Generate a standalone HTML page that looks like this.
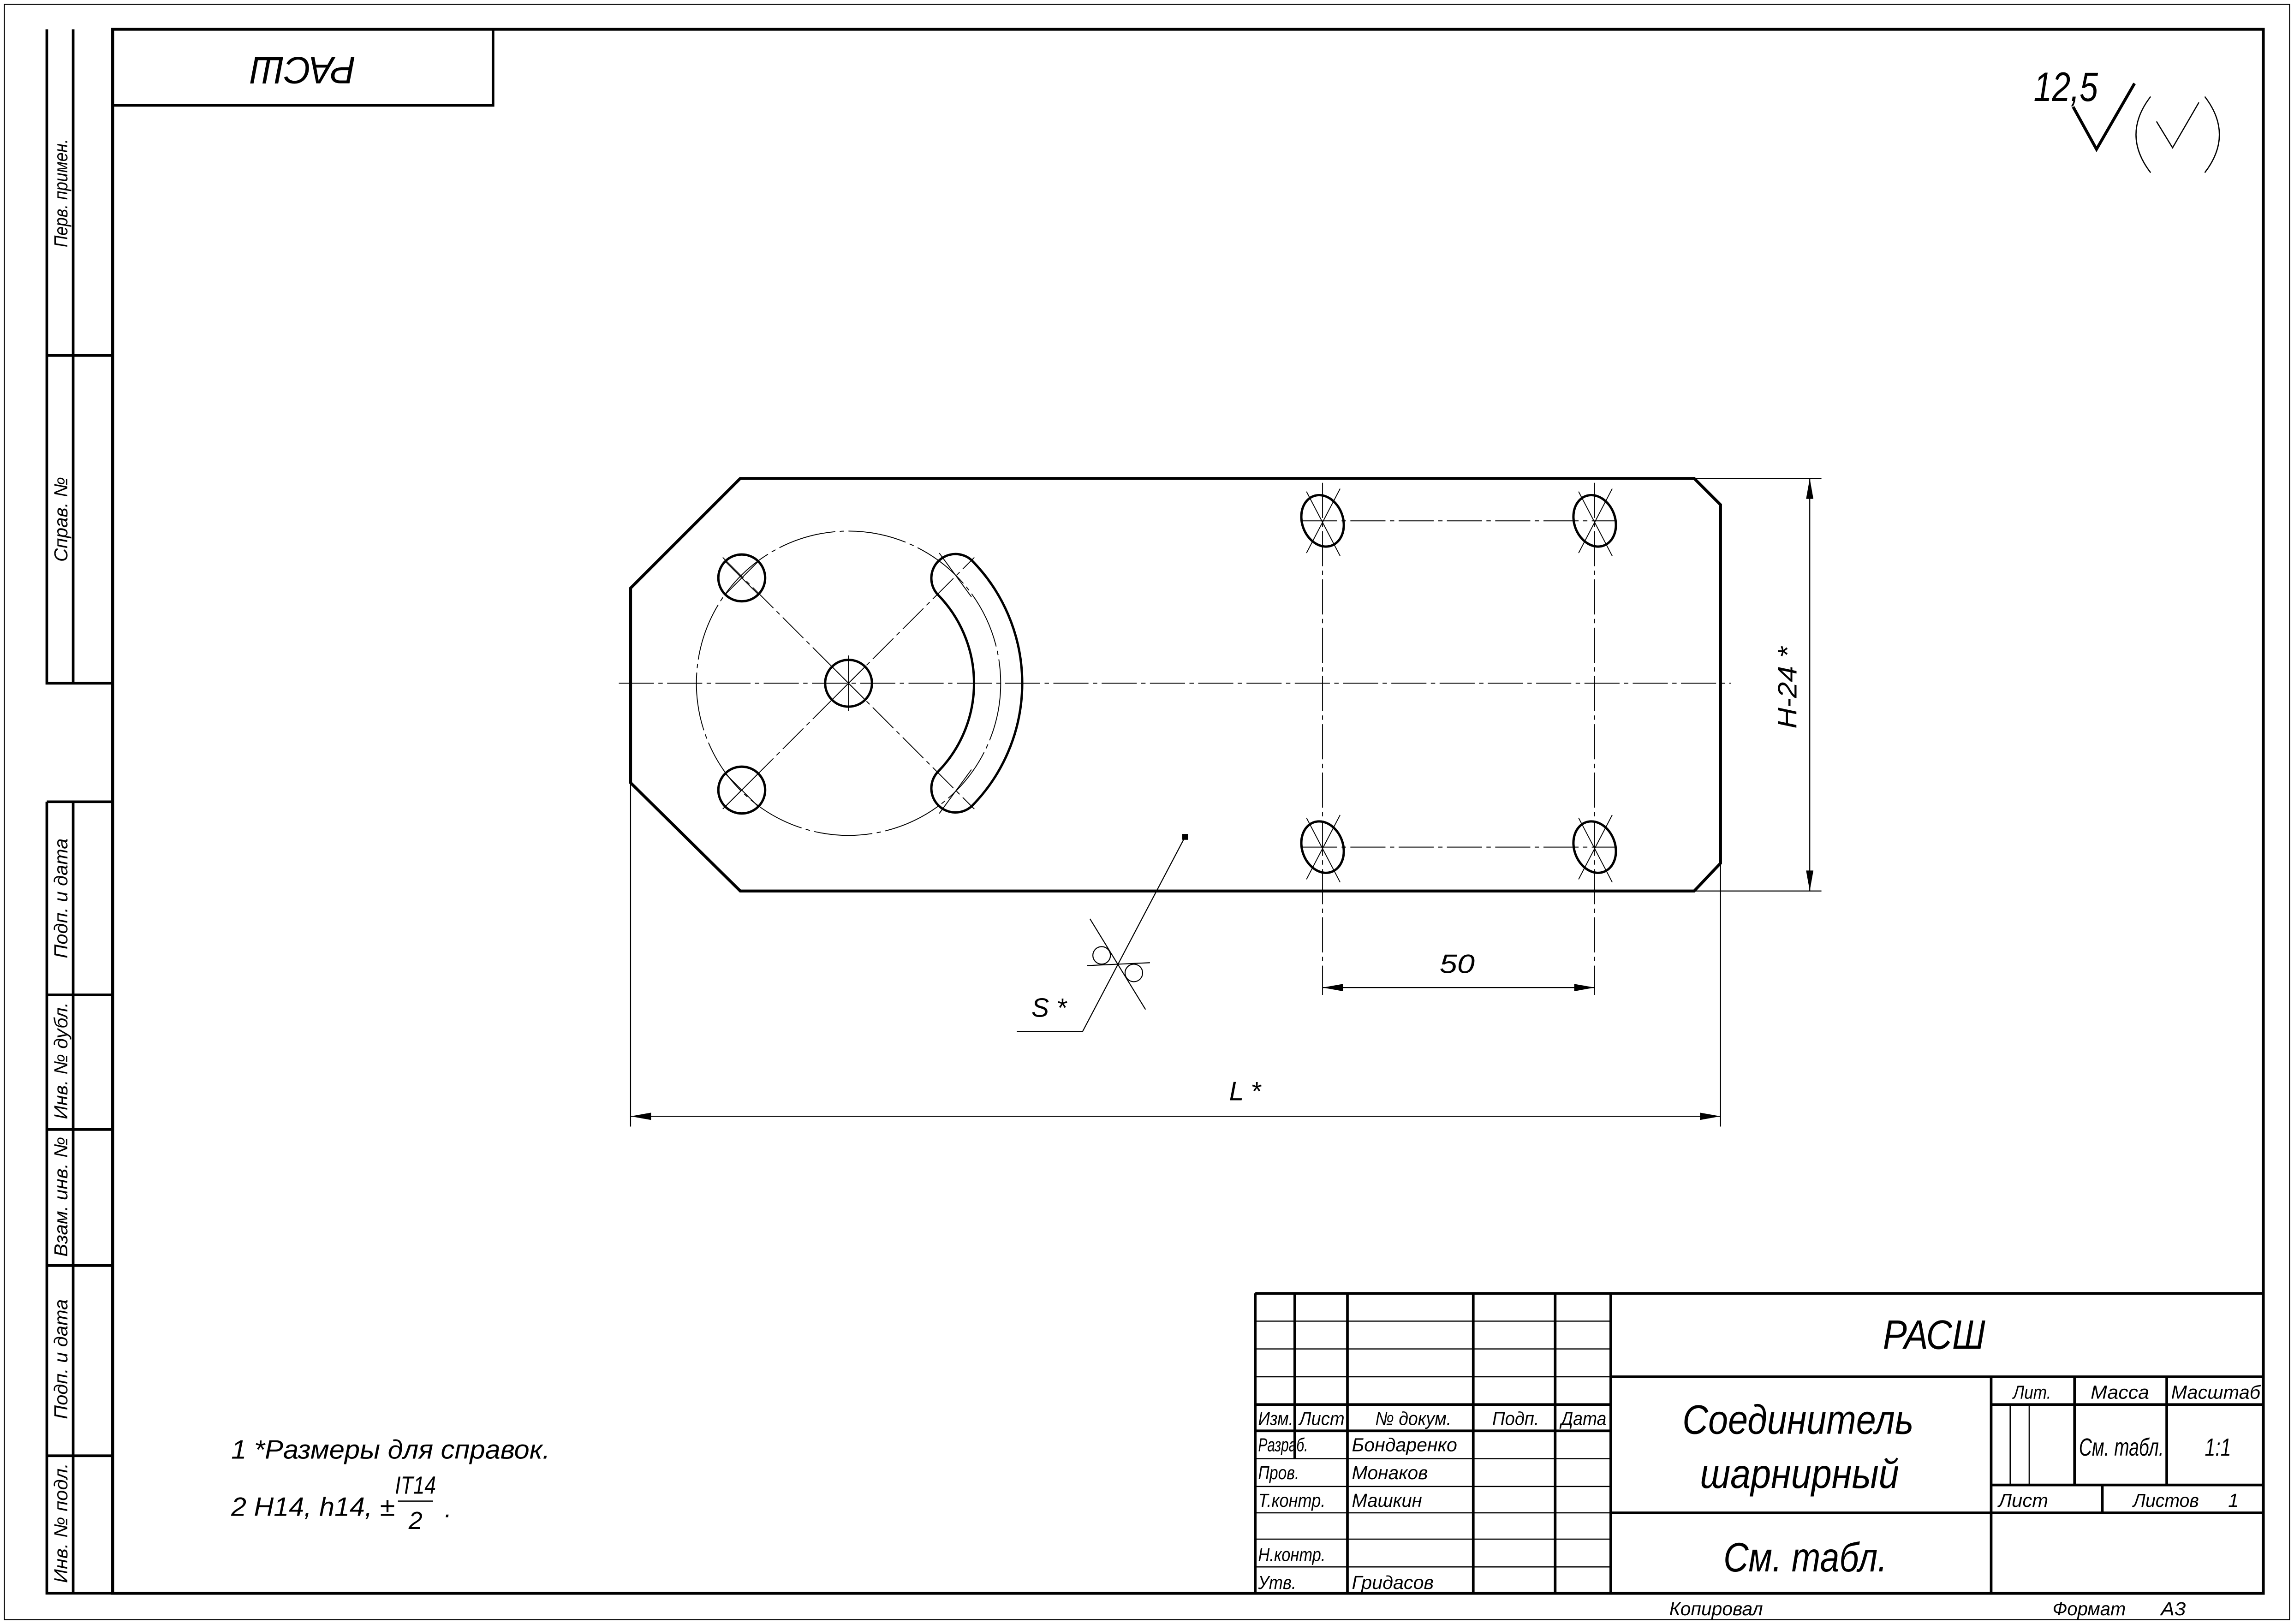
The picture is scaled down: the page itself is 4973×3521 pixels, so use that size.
<!DOCTYPE html>
<html><head><meta charset="utf-8"><style>
html,body{margin:0;padding:0;background:#fff}
svg{display:block}
text{font-family:"Liberation Sans Narrow","Liberation Sans",sans-serif;font-style:italic;fill:#000}
</style></head><body>
<svg xmlns="http://www.w3.org/2000/svg" width="4973" height="3521" viewBox="0 0 1568 1110" preserveAspectRatio="none">
<rect width="1568" height="1110" fill="#fff"/>
<g fill="none" stroke="#000">
<rect x="3" y="3" width="1562" height="1104" stroke-width="0.7"/>
<rect x="77" y="20" width="1470" height="1069" stroke-width="2"/>
<g stroke-width="1.8">
<path d="M32 20 V467 H77 M50 20 V467 M32 243 H77"/>
<path d="M32 548 V1089 H77 M32 548 H77 M50 548 V1089 M32 680 H77 M32 772 H77 M32 865 H77 M32 995 H77"/>
</g>
<path d="M77 72 H337 V20" stroke-width="1.8"/>
<path d="M1417 73 L1433 102 L1459 57" stroke-width="2"/>
<path d="M1474 83 L1485 101 L1503 70" stroke-width="0.8"/>
<path d="M1470 66 Q1450 92 1470 118" stroke-width="0.8"/>
<path d="M1507 66 Q1527 92 1507 118" stroke-width="0.8"/>

<path d="M506 327 H1158 L1176 345 V590 L1158 609 H506 L431 535 V402 Z" stroke-width="2"/>
<path d="M423 467 H1183" stroke-width="0.6" stroke-dasharray="24 3 3 3"/>
<circle cx="580" cy="467" r="104" stroke-width="0.6" stroke-dasharray="40 3 3 3"/>
<path d="M494 381 L666 553 M494 553 L666 381" stroke-width="0.6" stroke-dasharray="20 3 3 3"/>
<g stroke-width="1.6">
<circle cx="507" cy="395" r="16"/>
<circle cx="507" cy="540" r="16"/>
<circle cx="580" cy="467" r="16"/>
</g>
<g stroke-width="0.6">
<path d="M496 384 L518 406 M518 384 L496 406"/>
<path d="M496 529 L518 551 M518 529 L496 551"/>
<path d="M569 456 L591 478 M591 456 L569 478 M580 448 V486"/>
</g>
<path d="M664.1 382.9 A119.5 119.5 0 0 1 664.1 551.1 A16.5 16.5 0 0 1 640.8 527.8 A86.5 86.5 0 0 0 640.8 406.2 A16.5 16.5 0 0 1 664.1 382.9 Z" stroke-width="1.6"/>
<path d="M642 378 L664 408 M642 556 L664 526" stroke-width="0.6"/>

<g stroke-width="1.6">
<ellipse cx="904" cy="356" rx="14" ry="18" transform="rotate(-20 904 356)"/>
<ellipse cx="1090" cy="356" rx="14" ry="18" transform="rotate(-20 1090 356)"/>
<ellipse cx="904" cy="579" rx="14" ry="18" transform="rotate(-20 904 579)"/>
<ellipse cx="1090" cy="579" rx="14" ry="18" transform="rotate(-20 1090 579)"/>
</g>
<g stroke-width="0.6">
<path d="M893 336 L916 380 M916 334 L893 378"/>
<path d="M1079 336 L1102 380 M1102 334 L1079 378"/>
<path d="M893 559 L916 603 M916 557 L893 601"/>
<path d="M1079 559 L1102 603 M1102 557 L1079 601"/>
<path d="M904 330 V680 M1090 330 V680" stroke-dasharray="24 3 3 3"/>
<path d="M890 356 H1104 M890 579 H1104" stroke-dasharray="24 3 3 3"/>
</g>

<path d="M904 675 H1090" stroke-width="0.7"/>
<path d="M904 675 L918 672.5 L918 677.5 Z M1090 675 L1076 672.5 L1076 677.5 Z" fill="#000" stroke="none"/>

<path d="M1158 327 H1245 M1158 609 H1245 M1237 327 V609" stroke-width="0.7"/>
<path d="M1237 327 L1234.5 341 L1239.5 341 Z M1237 609 L1234.5 595 L1239.5 595 Z" fill="#000" stroke="none"/>

<path d="M431 535 V770 M1176 590 V770 M431 763 H1176" stroke-width="0.7"/>
<path d="M431 763 L445 760.5 L445 765.5 Z M1176 763 L1162 760.5 L1162 765.5 Z" fill="#000" stroke="none"/>

<g stroke-width="0.7">
<path d="M810 572 L740 705 H695"/>
<path d="M745 628 L783 690 M743 660 L786 658"/>
<circle cx="753" cy="653" r="6"/>
<circle cx="775" cy="665" r="6"/>
</g>
<rect x="808" y="570" width="4" height="4" fill="#000" stroke="none"/>

<path d="M272 1026 H296" stroke-width="0.8"/>

<g stroke-width="1.8">
<path d="M858 884 H1547 M858 884 V1089"/>
<path d="M885 884 V997 M921 884 V1089 M1007 884 V1089 M1063 884 V1089 M1101 884 V1089"/>
<path d="M858 960 H1101 M858 978 H1101"/>
<path d="M1101 941 H1547 M1101 1034 H1547 M1361 941 V1089"/>
<path d="M1361 960 H1547 M1418 941 V1015 M1481 941 V1015 M1361 1015 H1547 M1437 1015 V1034"/>
</g>
<g stroke-width="0.8">
<path d="M858 903 H1101 M858 922 H1101 M858 941 H1101 M858 997 H1101 M858 1016 H1101 M858 1034 H1101 M858 1052 H1101 M858 1071 H1101"/>
<path d="M1374 960 V1015 M1387 960 V1015"/>
</g>
</g>

<text x="207" y="46" font-size="26" text-anchor="middle" transform="rotate(180 207 46)" dominant-baseline="middle" textLength="72" lengthAdjust="spacingAndGlyphs">РАСШ</text>
<text x="1390" y="69" font-size="28" textLength="44" lengthAdjust="spacingAndGlyphs">12,5</text>

<g font-size="13">
<text transform="translate(46 132) rotate(-90)" text-anchor="middle" textLength="74" lengthAdjust="spacingAndGlyphs">Перв. примен.</text>
<text transform="translate(46 355) rotate(-90)" text-anchor="middle" textLength="58" lengthAdjust="spacingAndGlyphs">Справ. №</text>
<text transform="translate(46 614) rotate(-90)" text-anchor="middle" textLength="82" lengthAdjust="spacingAndGlyphs">Подп. и дата</text>
<text transform="translate(46 725) rotate(-90)" text-anchor="middle" textLength="80" lengthAdjust="spacingAndGlyphs">Инв. № дубл.</text>
<text transform="translate(46 818) rotate(-90)" text-anchor="middle" textLength="82" lengthAdjust="spacingAndGlyphs">Взам. инв. №</text>
<text transform="translate(46 929) rotate(-90)" text-anchor="middle" textLength="82" lengthAdjust="spacingAndGlyphs">Подп. и дата</text>
<text transform="translate(46 1041) rotate(-90)" text-anchor="middle" textLength="82" lengthAdjust="spacingAndGlyphs">Инв. № подл.</text>
</g>

<text x="996" y="665" font-size="18" text-anchor="middle" textLength="24" lengthAdjust="spacingAndGlyphs">50</text>
<text transform="translate(1228 470) rotate(-90)" font-size="18" text-anchor="middle" textLength="56" lengthAdjust="spacingAndGlyphs">H-24 *</text>
<text x="851" y="752" font-size="18" text-anchor="middle">L *</text>
<text x="705" y="695" font-size="18">S *</text>

<text x="158" y="997" font-size="18" textLength="218" lengthAdjust="spacingAndGlyphs">1  *Размеры для справок.</text>
<text x="158" y="1036" font-size="18" textLength="112" lengthAdjust="spacingAndGlyphs">2  H14, h14, ±</text>
<text x="284" y="1021" font-size="17" text-anchor="middle" textLength="28" lengthAdjust="spacingAndGlyphs">IT14</text>
<text x="284" y="1045" font-size="17" text-anchor="middle">2</text>
<text x="304" y="1037" font-size="17">.</text>

<g font-size="13">
<text x="860" y="974" textLength="24" lengthAdjust="spacingAndGlyphs">Изм.</text>
<text x="888" y="974" textLength="31" lengthAdjust="spacingAndGlyphs">Лист</text>
<text x="940" y="974" textLength="52" lengthAdjust="spacingAndGlyphs">№ докум.</text>
<text x="1020" y="974" textLength="32" lengthAdjust="spacingAndGlyphs">Подп.</text>
<text x="1067" y="974" textLength="31" lengthAdjust="spacingAndGlyphs">Дата</text>
<text x="860" y="992" textLength="34" lengthAdjust="spacingAndGlyphs">Разраб.</text>
<text x="924" y="992" textLength="72" lengthAdjust="spacingAndGlyphs">Бондаренко</text>
<text x="860" y="1011" textLength="28" lengthAdjust="spacingAndGlyphs">Пров.</text>
<text x="924" y="1011" textLength="52" lengthAdjust="spacingAndGlyphs">Монаков</text>
<text x="860" y="1030" textLength="46" lengthAdjust="spacingAndGlyphs">Т.контр.</text>
<text x="924" y="1030" textLength="48" lengthAdjust="spacingAndGlyphs">Машкин</text>
<text x="860" y="1067" textLength="46" lengthAdjust="spacingAndGlyphs">Н.контр.</text>
<text x="860" y="1086" textLength="26" lengthAdjust="spacingAndGlyphs">Утв.</text>
<text x="924" y="1086" textLength="56" lengthAdjust="spacingAndGlyphs">Гридасов</text>
<text x="1376" y="956" textLength="26" lengthAdjust="spacingAndGlyphs">Лит.</text>
<text x="1429" y="956" textLength="40" lengthAdjust="spacingAndGlyphs">Масса</text>
<text x="1484" y="956" textLength="61" lengthAdjust="spacingAndGlyphs">Масштаб</text>
<text x="1366" y="1030" textLength="34" lengthAdjust="spacingAndGlyphs">Лист</text>
<text x="1458" y="1030" textLength="45" lengthAdjust="spacingAndGlyphs">Листов</text>
<text x="1523" y="1030">1</text>
<text x="1141" y="1104" textLength="64" lengthAdjust="spacingAndGlyphs">Копировал</text>
<text x="1403" y="1104" textLength="50" lengthAdjust="spacingAndGlyphs">Формат</text>
<text x="1477" y="1104" textLength="17" lengthAdjust="spacingAndGlyphs">А3</text>
</g>
<text x="1421" y="995" font-size="17" textLength="58" lengthAdjust="spacingAndGlyphs">См. табл.</text>
<text x="1507" y="995" font-size="17" textLength="18" lengthAdjust="spacingAndGlyphs">1:1</text>
<text x="1287" y="922" font-size="28" textLength="70" lengthAdjust="spacingAndGlyphs">РАСШ</text>
<text x="1150" y="980" font-size="28" textLength="158" lengthAdjust="spacingAndGlyphs">Соединитель</text>
<text x="1162" y="1017" font-size="28" textLength="136" lengthAdjust="spacingAndGlyphs">шарнирный</text>
<text x="1178" y="1074" font-size="28" textLength="112" lengthAdjust="spacingAndGlyphs">См. табл.</text>
</svg>
</body></html>
